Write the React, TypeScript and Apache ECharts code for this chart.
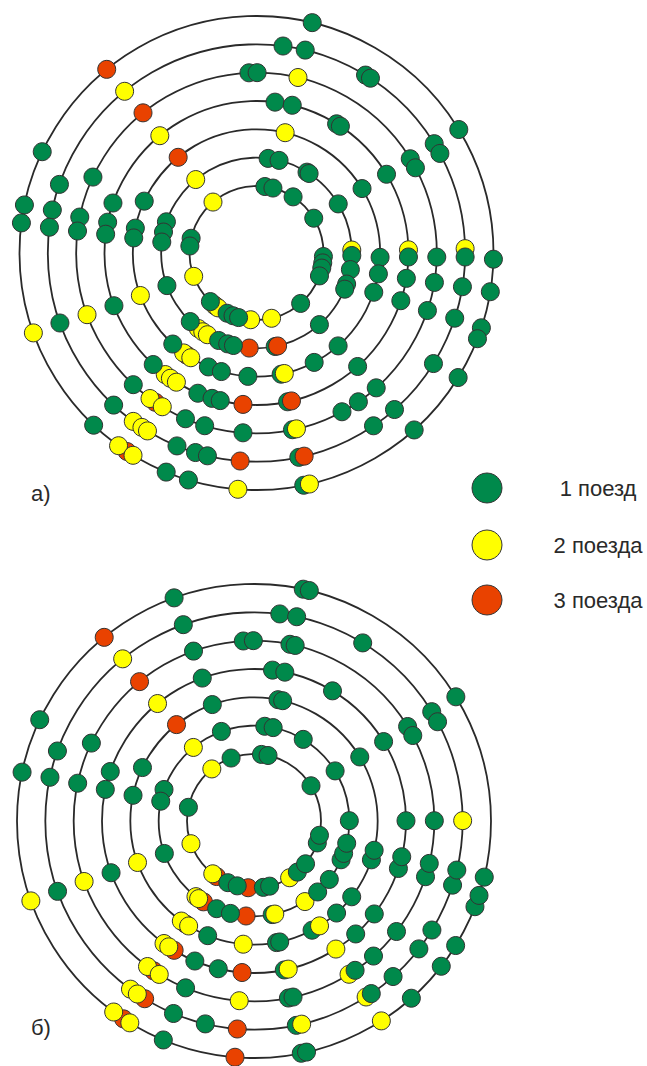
import React, { useEffect, useRef } from "react";
import * as echarts from "echarts";

type Dot = [number, number]; // [ring number, angle in degrees, counter-clockwise from east]

const ringValues = [1, 2, 3, 4, 5, 6, 7];
const trainLabels = ["1 поезд", "2 поезда", "3 поезда"];
const panelLabels = ["а)", "б)"];

const onRing = (ring: number, angles: number[]): Dot[] => angles.map((a) => [ring, a] as Dot);

// ---------- panel а) ----------
const aGreen: Dot[] = [
  ...onRing(1, [82.8, 75.8, 56.9, 31.3, 357, 351.5, 347, 340, 311.2, 167.3, 174, 226.5, 244, 249.5, 254.5]),
  ...onRing(2, [83, 76.3, 58, 56.5, 31, 358.5, 350, 341, 337.7, 311.3, 160.9, 167.3, 173.4, 200, 226, 246.6, 252.4, 256]),
  ...onRing(3, [31.4, 358, 350.3, 341.5, 311.3, 297.8, 155.2, 168.4, 173, 227.4, 247.1, 253.5, 266]),
  ...onRing(4, [83, 76.4, 58.2, 56.5, 31.2, 358.5, 350.4, 341.7, 311.7, 160.8, 168.3, 172.9, 200.3, 227.2, 247.3, 253, 256.2]),
  ...onRing(5, [92.4, 89.8, 31.5, 28.2, 358.7, 350.6, 341.4, 311.6, 304.4, 298.3, 155.1, 168.5, 173, 226.9, 246.8, 253.3, 265.7]),
  ...onRing(6, [82.7, 76.5, 58.5, 56.9, 31.6, 28.5, 358.9, 350.7, 341.8, 328, 311.4, 304.1, 160.8, 168.1, 172.9, 199.6, 226.8, 247.6, 253, 256.4]),
  ...onRing(7, [76.4, 31.4, 358.5, 350.6, 341.6, 338.8, 328.3, 311.7, 154.7, 168.3, 172.7, 226.6, 247.6, 253.3]),
];
const aGreenBack: Dot[] = [
  ...onRing(2, [281.3]),
  ...onRing(3, [281.5]),
  ...onRing(4, [281.8]),
  ...onRing(5, [281.5]),
  ...onRing(6, [281.7]),
  ...onRing(7, [281.5]),
];
const aYellow: Dot[] = [
  ...onRing(1, [130.5, 200.4, 231, 235, 265, 283]),
  ...onRing(2, [1.8, 129.6, 232.3, 235.7, 239]),
  ...onRing(3, [76.6, 200.1, 233.9, 237.9, 283]),
  ...onRing(4, [1.2, 129.5, 233.1, 235.5, 238.2]),
  ...onRing(5, [76.7, 200, 233.8, 238.5, 282.8]),
  ...onRing(6, [1.2, 129.2, 233.8, 236.7, 238.5]),
  ...onRing(7, [199.7, 234.4, 238.6, 265.5, 282.9]),
];
const aRed: Dot[] = [
  ...onRing(1, [232.5]),
  ...onRing(2, [265.6, 282.8]),
  ...onRing(3, [129.3, 235.7]),
  ...onRing(4, [264.9, 283.3]),
  ...onRing(5, [129, 235.9]),
  ...onRing(6, [265.5, 283.2]),
  ...onRing(7, [129.2, 236.9]),
];

// ---------- panel б) ----------
const bGreen: Dot[] = [
  ...onRing(1, [83.6, 77.9, 31.7, 110, 168.2, 247, 255.5, 278, 283.5, 310.3, 320.3, 340.9, 347.7]),
  ...onRing(2, [83.5, 78.4, 58.9, 31.7, 0.2, 110, 160.7, 168, 199.9, 246.9, 255.7, 311.9, 322.2, 336, 340.1, 346.5]),
  ...onRing(3, [78.8, 76.6, 31.2, 109.7, 154.4, 168, 248, 280.5, 282, 311.9, 322.2, 341.7, 346.3]),
  ...onRing(4, [83, 78.3, 58.9, 31.5, 0.1, 109.9, 161, 168, 199.9, 247.1, 256.4, 312, 322.3, 341.8, 346.4]),
  ...onRing(5, [93.4, 90.2, 78.5, 76.8, 31.6, 28.3, 0.1, 109.6, 154.4, 167.9, 247.7, 281, 282.5, 304.1, 311.5, 322.2, 342, 346.4]),
  ...onRing(6, [82.9, 78.2, 58.6, 31.6, 28.4, 109.8, 160.4, 167.9, 199.7, 247.3, 256.5, 304.2, 311.8, 322.2, 328.5, 342.1, 346.4]),
  ...onRing(7, [78, 76.5, 31.6, 109.7, 154.7, 168.1, 247.5, 281.5, 282.8, 311.6, 322.2, 328.3, 338.8, 341.7, 346.3]),
];
const bGreenBack: Dot[] = [
  ...onRing(2, [281]),
  ...onRing(3, [298]),
  ...onRing(4, [281.5]),
  ...onRing(6, [281.7]),
];
const bYellow: Dot[] = [
  ...onRing(1, [129, 199.8, 232, 302.1]),
  ...onRing(2, [129.5, 232.5, 234.5, 282.6, 302.3]),
  ...onRing(3, [199.6, 234, 238.1, 265, 302]),
  ...onRing(4, [129.4, 233.7, 235.9, 283, 302.6]),
  ...onRing(5, [199.6, 233.8, 238.3, 265.3, 301.8]),
  ...onRing(6, [0.1, 129, 233.7, 236, 283.2, 302.5]),
  ...onRing(7, [199.7, 233.7, 238.4, 302.5]),
];
const bRed: Dot[] = [
  ...onRing(1, [236, 265]),
  ...onRing(2, [238, 265.2]),
  ...onRing(3, [128.8, 236.4]),
  ...onRing(4, [238.3, 265.5]),
  ...onRing(5, [129.4, 236.2]),
  ...onRing(6, [238.4, 265.4]),
  ...onRing(7, [129.2, 236.6, 265.4]),
];

const GREEN = "#00894B";
const YELLOW = "#FFFF00";
const RED = "#E94200";
const INK = "#2a2a2a";
const legendColors = [GREEN, YELLOW, RED];

export default function App() {
  const ref = useRef<HTMLDivElement>(null);

  useEffect(() => {
    if (!ref.current) return;
    const chart = echarts.init(ref.current, undefined, { renderer: "svg" });

    const panels = [
      { center: [256.5, 253], green: aGreen, back: aGreenBack, yellow: aYellow, red: aRed },
      { center: [254, 821], green: bGreen, back: bGreenBack, yellow: bYellow, red: bRed },
    ];

    const polar = panels.map((p) => ({ center: p.center, radius: [67, 237] }));
    const radiusAxis = panels.map((_, i) => ({
      polarIndex: i,
      type: "value",
      min: ringValues[0],
      max: ringValues[ringValues.length - 1],
      interval: 1,
      axisLine: { show: false },
      axisTick: { show: false },
      axisLabel: { show: false },
      splitLine: { show: true, lineStyle: { color: INK, width: 1.8 } },
    }));
    const angleAxis = panels.map((_, i) => ({
      polarIndex: i,
      type: "value",
      min: 0,
      max: 360,
      startAngle: 0,
      clockwise: false,
      axisLine: { show: false },
      axisTick: { show: false },
      axisLabel: { show: false },
      splitLine: { show: false },
    }));

    const dotSeries = (polarIndex: number, name: string, color: string, data: Dot[]) => ({
      type: "scatter",
      coordinateSystem: "polar",
      polarIndex,
      name,
      symbol: "circle",
      symbolSize: 18,
      itemStyle: { color, borderColor: "#333", borderWidth: 1, opacity: 1 },
      silent: true,
      data: data.map(([ring, angle]) => [ring, angle]),
    });

    const series: any[] = [];
    panels.forEach((p, i) => {
      series.push(dotSeries(i, trainLabels[0], GREEN, p.back));
      series.push(dotSeries(i, trainLabels[2], RED, p.red));
      series.push(dotSeries(i, trainLabels[1], YELLOW, p.yellow));
      series.push(dotSeries(i, trainLabels[0], GREEN, p.green));
    });

    const legendY = [488, 545, 600];
    const legendGraphics: any[] = [];
    trainLabels.forEach((label, i) => {
      legendGraphics.push({
        type: "circle",
        shape: { cx: 487, cy: legendY[i], r: 15 },
        style: { fill: legendColors[i], stroke: "#333", lineWidth: 1 },
      });
      legendGraphics.push({
        type: "text",
        x: 598,
        y: legendY[i],
        style: {
          text: label,
          fontSize: 22,
          fill: INK,
          fontFamily: "Liberation Sans, Arial, sans-serif",
          textAlign: "center",
          textVerticalAlign: "middle",
        },
      });
    });

    chart.setOption({
      animation: false,
      backgroundColor: "#ffffff",
      polar,
      radiusAxis,
      angleAxis,
      series,
      graphic: [
        ...legendGraphics,
        ...panelLabels.map((t, i) => ({
          type: "text",
          left: 31,
          top: i === 0 ? 482 : 1016,
          style: {
            text: t,
            fontSize: 22,
            fill: INK,
            fontFamily: "Liberation Sans, Arial, sans-serif",
          },
        })),
      ],
    });

    return () => chart.dispose();
  }, []);

  return (
    <div
      ref={ref}
      style={{ position: "absolute", left: 0, top: 0, width: 647, height: 1066 }}
    />
  );
}
